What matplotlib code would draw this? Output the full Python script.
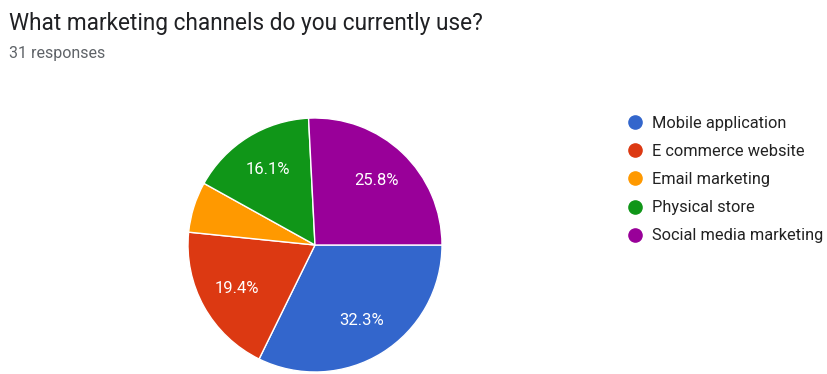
import matplotlib
matplotlib.use('Agg')
import matplotlib.pyplot as plt
from matplotlib.lines import Line2D

# survey answers (31 responses)
labels = ['Mobile application', 'E commerce website', 'Email marketing',
          'Physical store', 'Social media marketing']
counts = [10, 6, 2, 5, 8]
colors = ['#3366cc', '#dc3912', '#ff9900', '#109618', '#990099']
title = 'What marketing channels do you currently use?'
subtitle = '31 responses'

plt.rcParams['font.family'] = ['Roboto', 'DejaVu Sans']

W, H = 827, 374
fig = plt.figure(figsize=(W / 100, H / 100), dpi=100)

# pie centre and radius in pixels
cx, cy, r = 315, 245, 127
ax = fig.add_axes([(cx - r) / W, (H - cy - r) / H, 2 * r / W, 2 * r / H])


def pct(p):
    return '%.1f%%' % p if p > 8 else ''


# first slice starts at 3 o'clock, drawing clockwise
wedges, texts, autotexts = ax.pie(counts, colors=colors, startangle=0,
                                  counterclock=False, autopct=pct,
                                  pctdistance=0.7,
                                  wedgeprops={'edgecolor': 'white', 'linewidth': 1},
                                  textprops={'color': 'white', 'fontsize': 12})
ax.set_xlim(-1, 1)
ax.set_ylim(-1, 1)
ax.set_aspect('equal')

fig.text(9 / W, 1 - 30 / H, title, fontsize=16.3, color='#202124', va='baseline')
fig.text(9 / W, 1 - 58 / H, subtitle, fontsize=11.5, color='#5f6368', va='baseline')

handles = [Line2D([], [], marker='o', linestyle='', markersize=9.5,
                  markerfacecolor=c, markeredgecolor=c) for c in colors]
leg = fig.legend(handles, labels, loc='upper left',
                 bbox_to_anchor=(625 / W, 1 - 116 / H), frameon=False,
                 fontsize=11.8, labelspacing=0.8, handletextpad=0.45,
                 handlelength=1.2, borderaxespad=0, borderpad=0)
for t in leg.get_texts():
    t.set_color('#222222')

fig.savefig('out.png', dpi=100, facecolor='white')
